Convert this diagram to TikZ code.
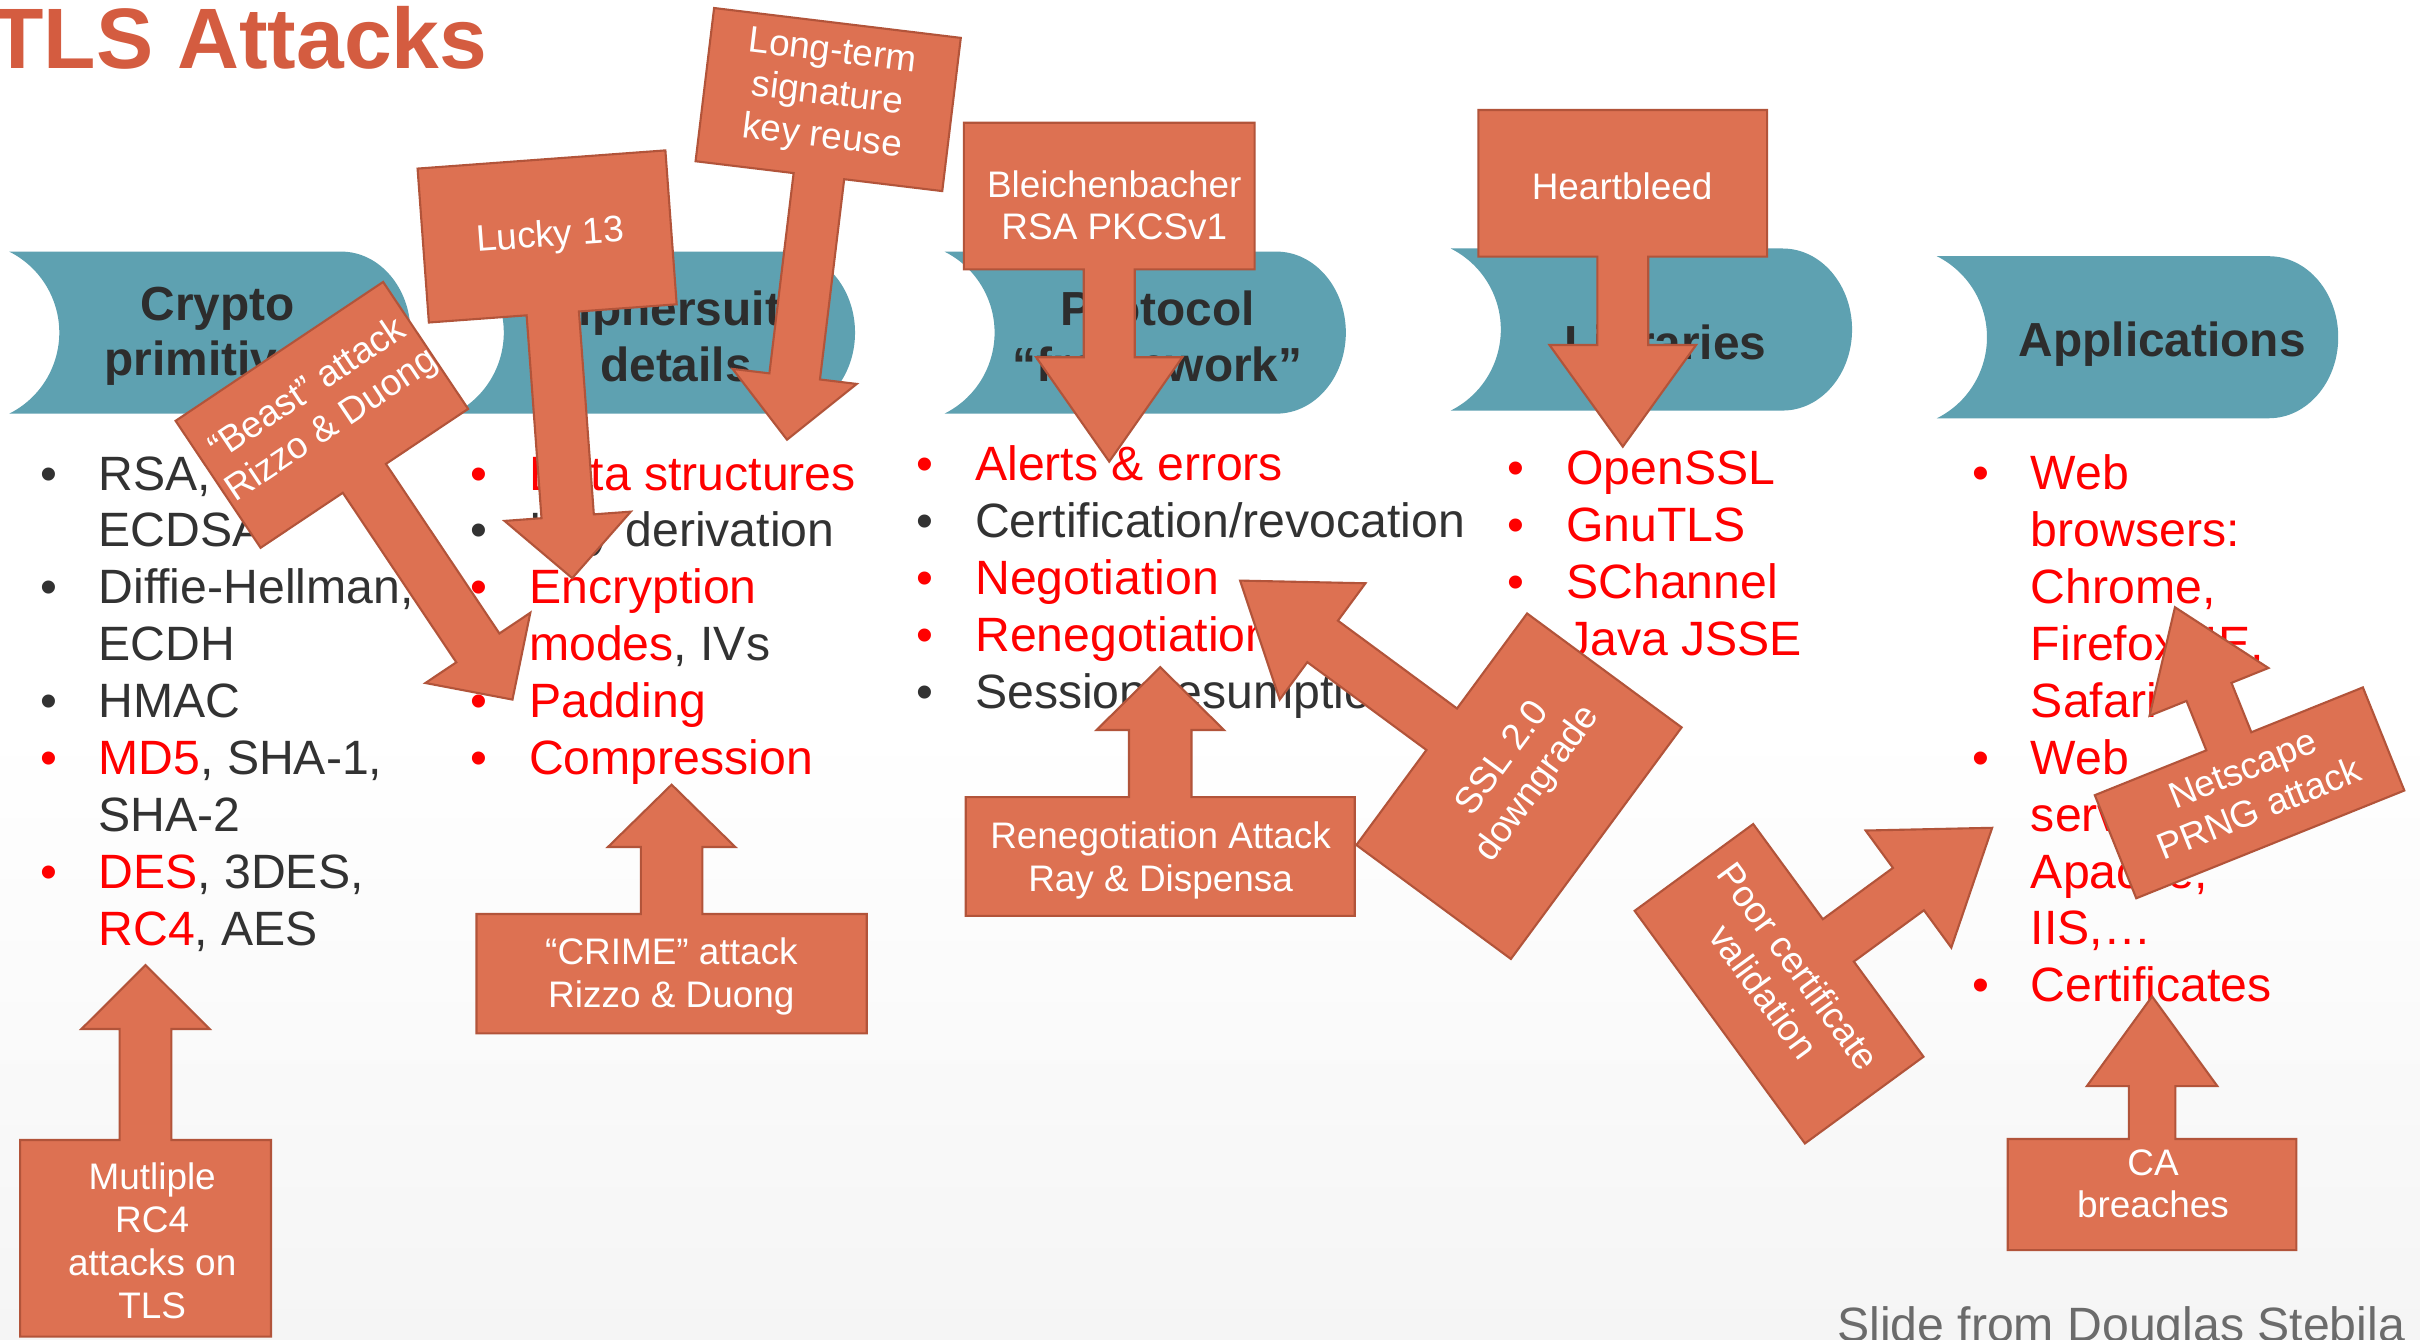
\documentclass[tikz,border=0pt]{standalone}
\usepackage{fontspec}
\setmainfont{Liberation Sans}
\usetikzlibrary{positioning}

\definecolor{stageteal}{RGB}{94,161,177}
\definecolor{stagedark}{RGB}{45,45,45}
\definecolor{listdark}{RGB}{50,50,50}
\definecolor{listred}{RGB}{255,0,0}
\definecolor{titlered}{RGB}{212,92,64}
\definecolor{attackorange}{RGB}{221,113,82}
\definecolor{attackedge}{RGB}{178,84,58}
\definecolor{creditgray}{RGB}{107,107,107}
\definecolor{bgbottom}{RGB}{245,245,245}

\newcommand{\rd}[1]{\textcolor{listred}{#1}}
\newcommand{\rbul}{\textcolor{listred}{\textbullet}}
\newcommand{\dbul}{\textbullet}

% teal stage band: concave left end, round right end
\newcommand{\stageband}[2]{%
  \fill[stagefill] (#1,#2) -- ++(215,0)
    arc[start angle=-90, end angle=90, x radius=45, y radius=52.5]
    -- ++(-215,0)
    arc[start angle=63.4, end angle=-63.4, radius=58.7] -- cycle;}

% callout box with arrow: centre, rotation, box w/2, box h/2, shaft w/2, head base, tip, head w/2
\newcommand{\attackarrow}[8]{%
  \begin{scope}[shift={#1}, rotate=#2]
    \filldraw[attackfill] (-#3,-#4) -- (#3,-#4) -- (#3,#4) -- (#5,#4) -- (#5,#6)
      -- (#8,#6) -- (0,#7) -- (-#8,#6) -- (-#5,#6) -- (-#5,#4) -- (-#3,#4) -- cycle;
  \end{scope}}

\begin{document}
\begin{tikzpicture}[
    x=0.0154337cm, y=-0.0154337cm,
    stagefill/.style={fill=stageteal},
    stagetext/.style={font=\fontsize{13.6}{15.8}\selectfont\bfseries, text=stagedark, align=center, inner sep=0pt},
    listcol/.style={anchor=base west, inner sep=0pt, font=\fontsize{13.7}{16.2}\selectfont, text=listdark},
    attackfill/.style={fill=attackorange, draw=attackedge, line width=0.6pt},
    attacktext/.style={font=\fontsize{10.5}{12.2}\selectfont, text=white, align=center, inner sep=0pt},
]
\useasboundingbox (0,0) rectangle (1568,868);
\fill[white] (0,0) rectangle (1568,470);
\fill[top color=white, bottom color=bgbottom] (0,470) rectangle (1568,868);

\node[anchor=base west, inner sep=0pt, font=\fontsize{24.4}{28}\selectfont\bfseries, text=titlered] (title) at (-6,44.5) {TLS Attacks};

% stages
\stageband{6}{163}
\stageband{294}{163}
\stageband{612}{163}
\stageband{940}{161}
\stageband{1255}{166}

\node[stagetext] (crypto) at (141,218) {Crypto\\primitives};
\node[stagetext] (cipher) at (438,218) {Ciphersuite\\details};
\node[stagetext] (protocol) at (750,218) {Protocol\\“framework”};
\node[stagetext, anchor=base] (libs) at (1079,233) {Libraries};
\node[stagetext, anchor=base] (apps) at (1401,231) {Applications};

% bullet lists
\node[listcol] (primlist) at (25.6,317.5) {\begin{tabular}[t]{@{}p{16.6pt}@{}l@{}}
\dbul & RSA, DSA,\\
      & ECDSA\\
\dbul & Diffie-Hellman,\\
      & ECDH\\
\dbul & HMAC\\
\rbul & \rd{MD5}, SHA-1,\\
      & SHA-2\\
\rbul & \rd{DES}, 3DES,\\
      & \rd{RC4}, AES
\end{tabular}};

\node[listcol] (cipherlist) at (304.6,317.5) {\begin{tabular}[t]{@{}p{16.6pt}@{}l@{}}
\rbul & \rd{Data structures}\\
\dbul & Key derivation\\
\rbul & \rd{Encryption}\\
      & \rd{modes}, IVs\\
\rbul & \rd{Padding}\\
\rbul & \rd{Compression}
\end{tabular}};

\node[listcol] (protolist) at (593.6,311.5) {\begin{tabular}[t]{@{}p{16.6pt}@{}l@{}}
\rbul & \rd{Alerts \& errors}\\
\dbul & Certification/revocation\\
\rbul & \rd{Negotiation}\\
\rbul & \rd{Renegotiation}\\
\dbul & Session resumption
\end{tabular}};

\node[listcol] (liblist) at (976.6,314) {\begin{tabular}[t]{@{}p{16.6pt}@{}l@{}}
\rbul & \rd{OpenSSL}\\
\rbul & \rd{GnuTLS}\\
\rbul & \rd{SChannel}\\
\rbul & \rd{Java JSSE}
\end{tabular}};

\node[listcol, text=listred] (applist) at (1277.6,317) {\begin{tabular}[t]{@{}p{16.6pt}@{}l@{}}
\textbullet & Web\\
            & browsers:\\
            & Chrome,\\
            & Firefox, IE,\\
            & Safari\\
\textbullet & Web\\
            & servers:\\
            & Apache,\\
            & IIS,…\\
\textbullet & Certificates
\end{tabular}};

% attacks
\attackarrow{(94.3,802.3)}{180}{81.3}{63.7}{16.75}{135.6}{177}{41.5}
\node[attacktext] (rcfour) at (98.6,804) {Mutliple\\RC4\\attacks on\\TLS};

\attackarrow{(435.15,630.85)}{180}{126.45}{38.65}{19.9}{82.05}{122.45}{41.25}
\node[attacktext] (crime) at (435,632.5) {“CRIME” attack\\Rizzo \& Duong};

\attackarrow{(751.75,554.95)}{180}{126.05}{38.45}{20.25}{81.95}{122.65}{41.3}
\node[attacktext] (reneg) at (752,557.3) {Renegotiation Attack\\Ray \& Dispensa};

\attackarrow{(1394.4,774)}{180}{93.5}{36}{15.1}{70.3}{128.4}{42.25}
\node[attacktext] (cabreach) at (1395,767) {CA\\breaches};

\attackarrow{(354.5,153.2)}{4.2}{80.5}{50}{17}{181.8}{222}{41}
\node[attacktext, rotate=4.2] (lucky) at (356.5,153.5) {Lucky 13};

\attackarrow{(536.6,64.5)}{-6.9}{80.5}{50}{16.5}{180.7}{222}{40.5}
\node[attacktext, rotate=-6.9] (keyreuse) at (536,62) {Long-term\\signature\\key reuse};

\attackarrow{(718.7,127)}{0}{94.2}{47.5}{16.5}{104.5}{172.1}{47.35}
\node[attacktext] (bleich) at (722,133) {Bleichenbacher\\RSA PKCSv1};

\attackarrow{(1051.45,118.8)}{0}{93.55}{47.5}{16.5}{104.7}{170.6}{47.5}
\node[attacktext, anchor=base] (heart) at (1051,129.2) {Heartbleed};

\attackarrow{(208.55,268.8)}{33.8}{80.9}{49.5}{16.8}{181.7}{222}{40.9}
\node[attacktext, rotate=33.8] (beast) at (207.5,264.5) {“Beast” attack\\Rizzo \& Duong};

\attackarrow{(984.2,509.4)}{233.6}{93.2}{62.2}{16.7}{158.1}{224.5}{46.8}
\node[attacktext, rotate=53.6] (sslv2) at (985.5,500) {SSL 2.0\\downgrade};

\attackarrow{(1152.7,637.4)}{126.2}{93.4}{47.6}{17}{103.9}{171.1}{47}
\node[attacktext, rotate=-53.8] (certval) at (1154,634) {Poor certificate\\validation};

\attackarrow{(1457.55,513.7)}{201.9}{93.6}{36}{15.7}{70.5}{129.6}{41.5}
\node[attacktext, rotate=21.9] (prng) at (1458.4,511) {Netscape\\PRNG attack};

\node[anchor=base west, inner sep=0pt, font=\fontsize{13.7}{16}\selectfont, text=creditgray] (credit) at (1190,869) {Slide from Douglas Stebila};
\end{tikzpicture}
\end{document}
